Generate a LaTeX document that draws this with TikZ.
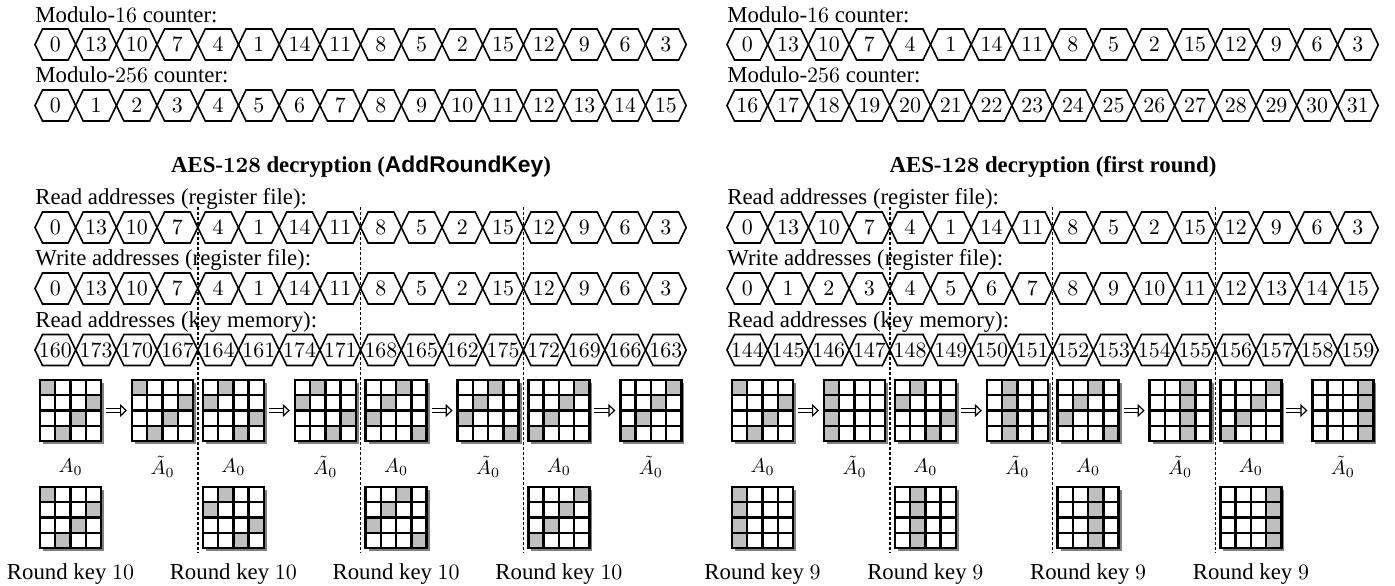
\documentclass[tikz,border=0pt]{standalone}
\usepackage{fontspec}
\setmainfont{Liberation Serif}
\setsansfont{Liberation Sans}
\usetikzlibrary{arrows.meta}

% one row of hexagonal counter cells: name prefix, left x, centre y, values
\newcommand{\hexrow}[4]{%
  \foreach \v [count=\i from 0] in {#4} {
    \draw[hexline] (#2+\i*40.7,#3) -- ++(7.5,-15.5) -- ++(25.7,0)
      -- ++(7.5,15.5) -- ++(-7.5,15.5) -- ++(-25.7,0) -- cycle;
    \node[hexval] (#1\i) at (#2+\i*40.7+20.35,#3) {$\v$};
  }}

% 4x4 state grid: name, left x, top y, shaded column of each row
\newcommand{\stategrid}[4]{%
  \edef\gridcols{#4}%
  \fill[gridshadow] (#2+3,#3+3) rectangle ++(61,61);
  \node[gridbox] (#1) at (#2+30.5,#3+30.5) {};
  \foreach \cl [count=\rw from 0] in \gridcols
    \fill[cellon] (#2+\cl*15.25,#3+\rw*15.25) rectangle ++(15.25,15.25);
  \foreach \kk in {1,2,3} {
    \draw[gridline] (#2+\kk*15.25,#3) -- ++(0,61);
    \draw[gridline] (#2,#3+\kk*15.25) -- ++(61,0);
  }
  \draw[gridline] (#1.north west) rectangle (#1.south east);
}

\begin{document}
\begin{tikzpicture}[x=0.5pt,y=-0.5pt,
  every node/.style={font=\fontsize{11.4}{13}\selectfont},
  hexline/.style={thick},
  hexval/.style={inner sep=0pt},
  rowlabel/.style={anchor=base west, inner sep=0pt},
  title/.style={anchor=base, inner sep=0pt,
    font=\fontsize{11.4}{13}\selectfont\bfseries\boldmath},
  statelabel/.style={inner sep=0pt, font=\fontsize{10.2}{12}\selectfont},
  keylabel/.style={anchor=base, inner sep=0pt},
  gridbox/.style={fill=white, minimum width=30.5pt, minimum height=30.5pt,
    inner sep=0pt, outer sep=0pt},
  gridline/.style={very thick},
  cellon/.style={fill=black!25},
  gridshadow/.style={fill=black!50},
  mixarrow/.style={double, double distance=1.3pt, semithick,
    shorten <=2.5pt, shorten >=2.5pt,
    -{Triangle[open,length=3.5pt,width=6.5pt]}},
  cutline/.style={line width=0.7pt, dash pattern=on 1.5pt off 1pt},
]
\useasboundingbox (0,0) rectangle (1395,585);

% ---- left: AddRoundKey ----
\node[rowlabel] (lm16) at (35,22) {Modulo-$16$ counter:};
\hexrow{lm}{35}{44.5}{0,13,10,7,4,1,14,11,8,5,2,15,12,9,6,3}
\node[rowlabel] (lm256) at (35,82.5) {Modulo-$256$ counter:};
\hexrow{lc}{35}{105.5}{0,...,15}

\node[title] (ltitle) at (361,172) {AES-$128$ decryption (\textsf{AddRoundKey})};
\node[rowlabel] (lrrlab) at (35,204.5) {Read addresses (register file):};
\hexrow{lrr}{35}{227.5}{0,13,10,7,4,1,14,11,8,5,2,15,12,9,6,3}
\node[rowlabel] (lwrlab) at (35,265.5) {Write addresses (register file):};
\hexrow{lwr}{35}{288.5}{0,13,10,7,4,1,14,11,8,5,2,15,12,9,6,3}
\node[rowlabel] (lrklab) at (35,327) {Read addresses (key memory):};
\hexrow{lrk}{35}{350}{160,173,170,167,164,161,174,171,168,165,162,175,172,169,166,163}

\foreach \k/\pat in {0/{0,3,2,1},1/{1,0,3,2},2/{2,1,0,3},3/{3,2,1,0}} {
  \stategrid{lA\k}{40+\k*162.8}{380}{\pat}
  \stategrid{lAt\k}{132+\k*162.8}{380}{\pat}
  \draw[mixarrow] (lA\k) -- (lAt\k);
  \node[statelabel] (lAlab\k) at (70.5+\k*162.8,467) {$A_0$};
  \node[statelabel] (lAtlab\k) at (162.5+\k*162.8,467) {$\tilde{A}_0$};
  \stategrid{lK\k}{40+\k*162.8}{487}{\pat}
  \node[keylabel] (lKlab\k) at (70.5+\k*162.8,579) {Round key $10$};
}
\foreach \k in {1,2,3}
  \draw[cutline] (35+\k*162.8,207) -- (35+\k*162.8,553);

% ---- right: first round ----
\node[rowlabel] (rm16) at (727,22) {Modulo-$16$ counter:};
\hexrow{rm}{727}{44.5}{0,13,10,7,4,1,14,11,8,5,2,15,12,9,6,3}
\node[rowlabel] (rm256) at (727,82.5) {Modulo-$256$ counter:};
\hexrow{rc}{727}{105.5}{16,...,31}

\node[title] (rtitle) at (1053,172) {AES-$128$ decryption (first round)};
\node[rowlabel] (rrrlab) at (727,204.5) {Read addresses (register file):};
\hexrow{rrr}{727}{227.5}{0,13,10,7,4,1,14,11,8,5,2,15,12,9,6,3}
\node[rowlabel] (rwrlab) at (727,265.5) {Write addresses (register file):};
\hexrow{rwr}{727}{288.5}{0,...,15}
\node[rowlabel] (rrklab) at (727,327) {Read addresses (key memory):};
\hexrow{rrk}{727}{350}{144,...,159}

\foreach \k/\pat/\colpat in {0/{0,3,2,1}/{0,0,0,0},1/{1,0,3,2}/{1,1,1,1},
    2/{2,1,0,3}/{2,2,2,2},3/{3,2,1,0}/{3,3,3,3}} {
  \stategrid{rA\k}{732+\k*162.8}{380}{\pat}
  \stategrid{rAt\k}{824+\k*162.8}{380}{\colpat}
  \draw[mixarrow] (rA\k) -- (rAt\k);
  \node[statelabel] (rAlab\k) at (762.5+\k*162.8,467) {$A_0$};
  \node[statelabel] (rAtlab\k) at (854.5+\k*162.8,467) {$\tilde{A}_0$};
  \stategrid{rK\k}{732+\k*162.8}{487}{\colpat}
  \node[keylabel] (rKlab\k) at (762.5+\k*162.8,579) {Round key $9$};
}
\foreach \k in {1,2,3}
  \draw[cutline] (727+\k*162.8,207) -- (727+\k*162.8,553);
\end{tikzpicture}
\end{document}
